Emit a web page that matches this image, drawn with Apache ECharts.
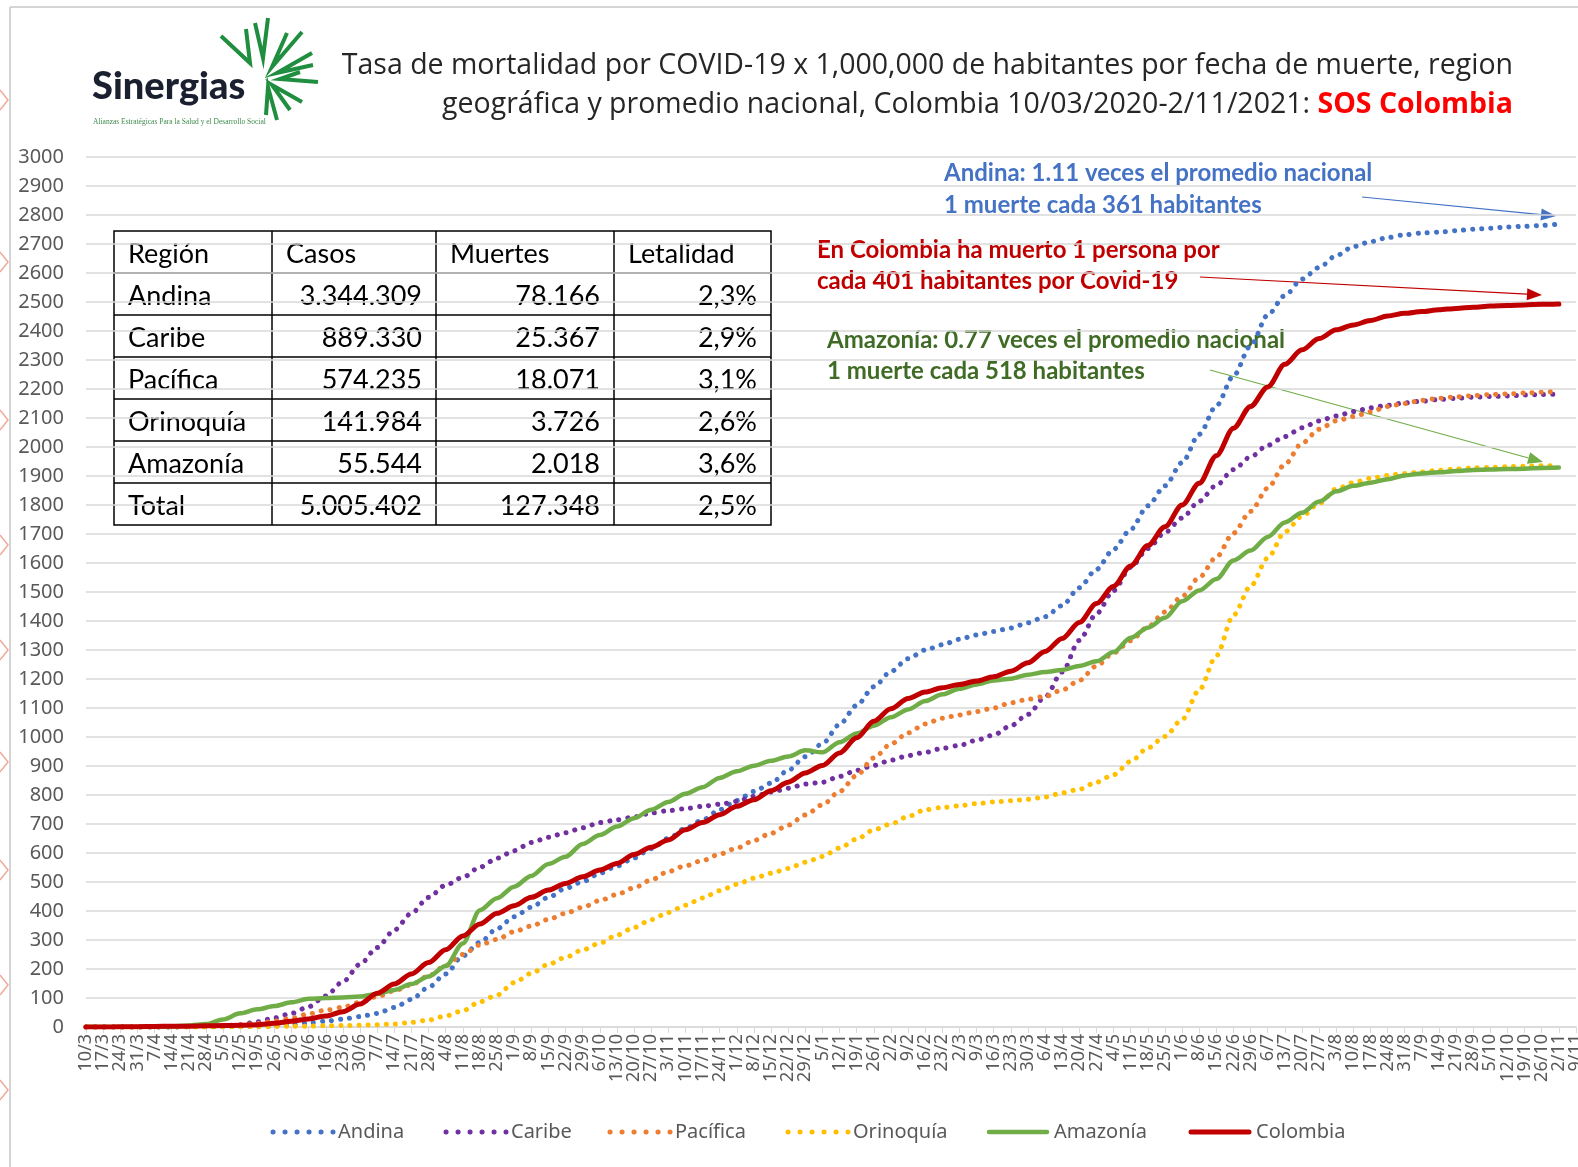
<!DOCTYPE html>
<html>
<head>
<meta charset="utf-8">
<script src="https://cdn.jsdelivr.net/npm/echarts@6/dist/echarts.min.js"></script>
<style>
html,body{margin:0;padding:0;background:#fff;}
#chart{width:1578px;height:1167px;}
</style>
</head>
<body>
<div id="chart"></div>
<script>
// Tasa de mortalidad por millón, semanal (10/3/2020 - 2/11/2021)

var fechas = ['10/3','17/3','24/3','31/3','7/4','14/4','21/4','28/4','5/5','12/5','19/5','26/5',
  '2/6','9/6','16/6','23/6','30/6','7/7','14/7','21/7','28/7','4/8','11/8','18/8','25/8',
  '1/9','8/9','15/9','22/9','29/9','6/10','13/10','20/10','27/10','3/11','10/11','17/11','24/11',
  '1/12','8/12','15/12','22/12','29/12','5/1','12/1','19/1','26/1','2/2','9/2','16/2','23/2',
  '2/3','9/3','16/3','23/3','30/3','6/4','13/4','20/4','27/4','4/5','11/5','18/5','25/5',
  '1/6','8/6','15/6','22/6','29/6','6/7','13/7','20/7','27/7','3/8','10/8','17/8','24/8','31/8',
  '7/9','14/9','21/9','28/9','5/10','12/10','19/10','26/10','2/11','9/11'];

var andina = [0,0,0,0,0,0,0.5,1,1,2,
  2,4,8,14,20,27,36,47,67,95,
  137,183,245,292,339,380,413,447,478,501,
  530,555,583,615,650,685,714,749,781,812,
  841,885,932,977,1043,1109,1173,1226,1270,1300,
  1318,1337,1352,1364,1376,1394,1415,1453,1515,1578,
  1647,1716,1797,1866,1946,2044,2142,2245,2349,2455,
  2522,2579,2619,2660,2691,2708,2722,2732,2738,2741,
  2746,2751,2754,2759,2761,2764,2769];

var caribe = [0,0,0,0,0,0,1,2,4,8,
  18,31,47,70,107,156,216,274,334,392,
  447,489,516,551,582,608,636,654,670,687,
  705,714,724,738,746,753,761,768,778,795,
  810,823,838,844,864,885,902,920,936,947,
  961,971,989,1007,1039,1078,1138,1224,1333,1425,
  1505,1585,1650,1705,1755,1813,1868,1922,1966,2006,
  2036,2066,2090,2107,2122,2135,2144,2152,2158,2164,
  2168,2172,2174,2176,2179,2181,2182];

var pacifica = [0,0,0,0,0,0,1,2,4,7,
  12,20,30,45,58,68,85,105,125,146,
  176,212,250,283,302,329,348,371,392,413,
  436,457,480,507,536,556,574,596,617,643,
  668,696,731,766,812,867,928,976,1014,1045,
  1065,1076,1088,1100,1118,1130,1140,1162,1195,1245,
  1290,1332,1380,1431,1485,1550,1620,1703,1778,1858,
  1940,2013,2061,2090,2105,2121,2140,2150,2161,2168,
  2173,2177,2181,2183,2186,2189,2192];

var orinoquia = [0,0,0,0,0,0,0,0,1,1,
  2,2,3,3,4,5,6,8,10,16,
  24,38,56,87,110,153,185,216,240,266,
  289,317,343,370,395,420,445,470,492,513,
  530,547,568,588,617,648,680,700,726,749,
  757,763,770,776,780,785,793,807,820,844,
  870,916,962,1002,1060,1162,1280,1420,1520,1617,
  1707,1761,1805,1855,1877,1892,1902,1909,1914,1920,
  1924,1928,1930,1932,1934,1935,1937];

var amazonia = [0,0,0,0,0,2,5,10,26,47,
  61,72,85,97,100,102,105,114,128,148,
  174,210,288,403,444,484,521,562,587,631,
  662,691,720,749,776,804,827,859,882,901,
  918,933,954,947,982,1012,1039,1068,1095,1124,
  1147,1166,1181,1195,1201,1215,1224,1231,1245,1261,
  1293,1342,1377,1411,1468,1505,1545,1609,1643,1690,
  1740,1773,1812,1847,1866,1877,1889,1902,1909,1913,
  1917,1921,1922,1924,1925,1928,1929];

var colombia = [0,0,0.5,1,2,2.5,3,4,5,6,
  8,13,20,28,38,53,79,116,148,183,
  222,266,314,355,392,418,447,472,495,518,
  541,564,595,620,645,680,705,732,761,784,
  815,844,876,902,945,997,1054,1097,1133,1155,
  1170,1181,1193,1208,1227,1256,1295,1340,1395,1460,
  1520,1590,1660,1725,1800,1875,1970,2065,2140,2207,
  2285,2335,2374,2404,2421,2436,2452,2461,2467,2473,
  2478,2482,2486,2488,2490,2492,2493];

// tabla de casos y muertes
var encabezado = ['Región','Casos','Muertes','Letalidad'];
var regiones  = ['Andina','Caribe','Pacífica','Orinoquía','Amazonía','Total'];
var casos     = ['3.344.309','889.330','574.235','141.984','55.544','5.005.402'];
var muertes   = ['78.166','25.367','18.071','3.726','2.018','127.348'];
var letalidad = ['2,3%','2,9%','3,1%','2,6%','3,6%','2,5%'];

var chart = echarts.init(document.getElementById('chart'));

var DOT = [0.1, 9];

function punteada(nombre, datos, color) {
  return {
    name: nombre, type: 'line', data: datos, symbol: 'none',
    smooth: 0.3, smoothMonotone: 'x',
    lineStyle: { color: color, width: 5, type: DOT, cap: 'round' },
    itemStyle: { color: color }
  };
}
function solida(nombre, datos, color, ancho) {
  return {
    name: nombre, type: 'line', data: datos, symbol: 'none',
    smooth: 0.3, smoothMonotone: 'x',
    lineStyle: { color: color, width: ancho, cap: 'round', join: 'round' },
    itemStyle: { color: color }
  };
}

var series = [
  punteada('Andina', andina, '#4472c4'),
  punteada('Caribe', caribe, '#7030a0'),
  punteada('Pacífica', pacifica, '#ed7d31'),
  punteada('Orinoquía', orinoquia, '#ffc000'),
  solida('Amazonía', amazonia, '#70ad47', 4.5),
  solida('Colombia', colombia, '#c00000', 5)
];

function flecha(x1, y1, x2, y2, color) {
  var ang = Math.atan2(y2 - y1, x2 - x1), L = 15, W = 6;
  var bx = x2 - L * Math.cos(ang), by = y2 - L * Math.sin(ang);
  var px = -Math.sin(ang) * W, py = Math.cos(ang) * W;
  return [
    { type: 'line', shape: { x1: x1, y1: y1, x2: bx, y2: by }, style: { stroke: color, lineWidth: 1.2 } },
    { type: 'polygon', shape: { points: [[x2, y2], [bx + px, by + py], [bx - px, by - py]] }, style: { fill: color } }
  ];
}

var g = [];

// marco de la diapositiva
g.push({ type: 'line', shape: { x1: 10, y1: 7, x2: 10, y2: 1167 }, style: { stroke: '#d4d4d4', lineWidth: 2 } });
g.push({ type: 'line', shape: { x1: 10, y1: 7, x2: 1578, y2: 7 }, style: { stroke: '#d4d4d4', lineWidth: 2 } });
[100, 262, 420, 545, 650, 762, 870, 985, 1090].forEach(function (y) {
  g.push({ type: 'polyline', shape: { points: [[0, y - 10], [8, y], [0, y + 10]] }, style: { stroke: '#f0aa9a', lineWidth: 1.5, fill: null } });
});

// logo
var hojas = [
  [[221, 36], [250, 63], [246, 29]],
  [[255, 23], [263, 58], [268, 18]],
  [[287, 33], [272, 67], [302, 32]],
  [[312, 53], [277, 73], [313, 65]],
  [[318, 82], [280, 79], [300, 72]],
  [[302, 102], [272, 85], [290, 110]],
  [[277, 120], [268, 87], [266, 115]]
];
hojas.forEach(function (p) {
  g.push({ type: 'polyline', shape: { points: p }, style: { stroke: '#1f8f3f', lineWidth: 4, fill: null, lineJoin: 'miter' } });
});
g.push({ type: 'text', x: 92, y: 87, style: { text: 'Sinergias', font: '900 38px Lato', fill: '#1b2030', verticalAlign: 'middle' } });
g.push({ type: 'text', x: 93, y: 122, style: { text: 'Alianzas Estratégicas Para la Salud y el Desarrollo Social', font: '7.5px "Liberation Sans Narrow"', fill: '#3d8a4a', verticalAlign: 'middle' } });

// titulo
g.push({ type: 'text', x: 1513, y: 66, style: {
  text: 'Tasa de mortalidad por COVID-19 x 1,000,000 de habitantes por fecha de muerte, region',
  font: '28.5px "Open Sans"', fill: '#262626', align: 'right', verticalAlign: 'middle' } });
g.push({ type: 'text', x: 1513, y: 105, style: {
  text: '{n|geográfica y promedio nacional, Colombia 10/03/2020-2/11/2021: }{r|SOS Colombia}',
  align: 'right', verticalAlign: 'middle',
  rich: {
    n: { fontFamily: 'Open Sans', fontSize: 28.5, fill: '#262626' },
    r: { fontFamily: 'Open Sans', fontSize: 28.5, fontWeight: 'bold', fill: '#ff0000' }
  } } });

// tabla
var colX = [114, 272, 436, 614, 771];
var filaY0 = 231, filaH = 42, nFilas = regiones.length + 1;
g.push({ type: 'rect', shape: { x: colX[0], y: filaY0, width: colX[4] - colX[0], height: filaH * nFilas },
  style: { fill: 'none', stroke: '#000', lineWidth: 1.5 } });
for (var c = 1; c < 4; c++) {
  g.push({ type: 'line', shape: { x1: colX[c], y1: filaY0, x2: colX[c], y2: filaY0 + filaH * nFilas }, style: { stroke: '#000', lineWidth: 1.5 } });
}
for (var r = 1; r < nFilas; r++) {
  g.push({ type: 'line', shape: { x1: colX[0], y1: filaY0 + filaH * r, x2: colX[4], y2: filaY0 + filaH * r }, style: { stroke: '#000', lineWidth: 1.5 } });
}
var fuenteTabla = '27px Lato';
encabezado.forEach(function (t, i) {
  g.push({ type: 'text', x: colX[i] + 14, y: filaY0 + filaH / 2 + 2, style: { text: t, font: fuenteTabla, fill: '#000', verticalAlign: 'middle' } });
});
regiones.forEach(function (reg, k) {
  var yc = filaY0 + filaH * (k + 1) + filaH / 2 + 2;
  g.push({ type: 'text', x: colX[0] + 14, y: yc, style: { text: reg, font: fuenteTabla, fill: '#000', verticalAlign: 'middle' } });
  [casos[k], muertes[k], letalidad[k]].forEach(function (v, j) {
    g.push({ type: 'text', x: colX[j + 2] - 14, y: yc, style: { text: v, font: fuenteTabla, fill: '#000', align: 'right', verticalAlign: 'middle' } });
  });
});

// anotaciones
var fAnot = 'bold 24px Lato';
g.push({ type: 'text', x: 944, y: 173, style: { text: 'Andina: 1.11 veces el promedio nacional', font: fAnot, fill: '#4472c4', verticalAlign: 'middle' } });
g.push({ type: 'text', x: 944, y: 205, style: { text: '1 muerte cada 361 habitantes', font: fAnot, fill: '#4472c4', verticalAlign: 'middle' } });
g.push({ type: 'text', x: 817, y: 250, style: { text: 'En Colombia ha muerto 1 persona por', font: fAnot, fill: '#c00000', verticalAlign: 'middle' } });
g.push({ type: 'text', x: 817, y: 281, style: { text: 'cada 401 habitantes por Covid-19', font: fAnot, fill: '#c00000', verticalAlign: 'middle' } });
g.push({ type: 'text', x: 827, y: 340, style: { text: 'Amazonía: 0.77 veces el promedio nacional', font: fAnot, fill: '#3f6b24', verticalAlign: 'middle' } });
g.push({ type: 'text', x: 827, y: 371, style: { text: '1 muerte cada 518 habitantes', font: fAnot, fill: '#3f6b24', verticalAlign: 'middle' } });
g = g.concat(flecha(1362, 197, 1556, 216, '#4472c4'));
g = g.concat(flecha(1200, 277, 1542, 295, '#c00000'));
g = g.concat(flecha(1210, 370, 1543, 462, '#70ad47'));

// leyenda dibujada a mano (iconos punteados como en Excel)
var leyX = [270, 443, 607, 785, 986, 1188];
var leyY = 1132;
series.forEach(function (s, i) {
  var ls = s.lineStyle;
  var punteado = ls.type === DOT;
  g.push({ type: 'line', shape: { x1: leyX[i] + 3, y1: leyY, x2: leyX[i] + (punteado ? 63 : 61), y2: leyY },
    style: { stroke: ls.color, lineWidth: ls.width, lineDash: punteado ? [0.1, 11.9] : null, lineCap: 'round' } });
  g.push({ type: 'text', x: leyX[i] + 68, y: leyY, style: { text: s.name, font: '20px "Noto Sans"', fill: '#595959', verticalAlign: 'middle' } });
});

var option = {
  animation: false,
  backgroundColor: '#fff',
  grid: { left: 86, right: 2, top: 157, bottom: 140, containLabel: false, outerBoundsMode: 'none' },
  xAxis: {
    type: 'category', data: fechas, boundaryGap: false,
    axisLine: { lineStyle: { color: '#d9d9d9', width: 1.5 } },
    axisTick: { show: true, interval: 0, length: 6, lineStyle: { color: '#d9d9d9' } },
    axisLabel: { interval: 0, rotate: 90, margin: 7, fontFamily: 'Noto Sans', fontSize: 18, color: '#595959' },
    splitLine: { show: false }
  },
  yAxis: {
    type: 'value', min: 0, max: 3000, interval: 100,
    axisLine: { show: false }, axisTick: { show: false },
    axisLabel: { margin: 22, fontFamily: 'Noto Sans', fontSize: 20, color: '#595959',
      formatter: function (v) { return String(v); } },
    splitLine: { lineStyle: { color: '#d9d9d9', width: 1.5 } }
  },
  graphic: g,
  series: series
};
chart.setOption(option);
</script>
</body>
</html>
